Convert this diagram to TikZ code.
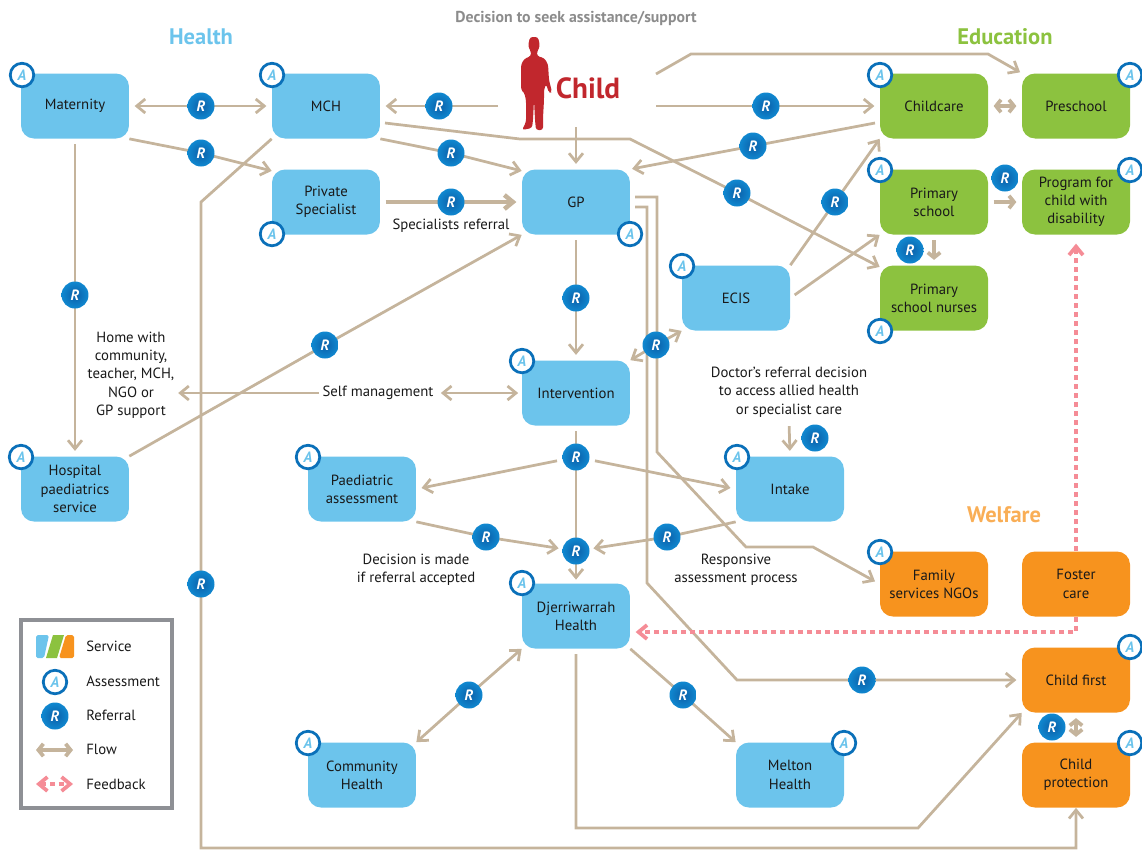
\documentclass[tikz,border=0pt]{standalone}
\usepackage{fontspec}
\setmainfont{PT Sans}
\usetikzlibrary{arrows.meta,backgrounds}
\definecolor{healthblue}{HTML}{6CC4EC}
\definecolor{edugreen}{HTML}{8CC23F}
\definecolor{welfareorange}{HTML}{F7931E}
\definecolor{flowtan}{HTML}{C5B49C}
\definecolor{feedbackpink}{HTML}{F58C96}
\definecolor{badgeblue}{HTML}{0A70B9}
\definecolor{badgedeep}{HTML}{0B5FA8}
\definecolor{badgeedge}{HTML}{1088D0}
\definecolor{childred}{HTML}{C1272D}
\definecolor{legendgray}{HTML}{8E9095}
\tikzset{
  service/.style={rectangle, rounded corners=0.26cm, minimum width=2.16cm, minimum height=1.3cm, inner sep=0pt, align=center, font=\fontsize{8.4}{10.4}\selectfont, text=black!90},
  health/.style={service, fill=healthblue},
  edu/.style={service, fill=edugreen},
  welfare/.style={service, fill=welfareorange},
  assess/.style={circle, draw=badgeblue, line width=0.55mm, fill=white, minimum size=0.47cm, inner sep=0pt, text=healthblue, font=\fontsize{8.5}{9}\selectfont\bfseries\itshape},
  refer/.style={circle, inner color=badgedeep, outer color=badgeedge, minimum size=0.54cm, inner sep=0pt, text=white, font=\fontsize{8.5}{9}\selectfont\bfseries\itshape},
  flow/.style={draw=flowtan, line width=0.55mm, >={Straight Barb[length=1.7mm,width=2.8mm]}},
  heavy/.style={flow, line width=0.9mm},
  stub/.style={draw=flowtan, line width=0.75mm, >={Straight Barb[length=1mm,width=2.5mm]}},
  feedback/.style={draw=feedbackpink, line width=0.75mm, dash pattern=on 1.1mm off 0.7mm, >={Straight Barb[length=1.7mm,width=2.8mm]}},
  gap/.style={shorten <=#1, shorten >=#1},
  note/.style={align=center, inner sep=2pt, font=\fontsize{8.4}{10.4}\selectfont, text=black!90},
  heading/.style={font=\fontsize{12.8}{15}\selectfont\bfseries}
}

\begin{document}
\begin{tikzpicture}[x=0.02cm, y=-0.02cm]
\useasboundingbox (0, 0) rectangle (1142, 850);

% services
\node[health] (maternity) at (75, 106) {Maternity};
\node[health] (mch) at (326, 106) {MCH};
\node[health] (private) at (326, 202) {Private\\Specialist};
\node[health] (gp) at (576, 202) {GP};
\node[health] (ecis) at (736, 298) {ECIS};
\node[health] (intervention) at (576, 393) {Intervention};
\node[health] (paediatric) at (362, 489) {Paediatric\\assessment};
\node[health] (intake) at (790, 489) {Intake};
\node[health] (hospital) at (75, 489) {Hospital\\paediatrics\\service};
\node[health] (djerri) at (576, 616) {Djerriwarrah\\Health};
\node[health] (community) at (362, 775) {Community\\Health};
\node[health] (melton) at (790, 775) {Melton\\Health};
\node[edu] (childcare) at (934, 106) {Childcare};
\node[edu] (preschool) at (1076, 106) {Preschool};
\node[edu] (primary) at (934, 202) {Primary\\school};
\node[edu] (program) at (1076, 202) {Program for\\child with\\disability};
\node[edu] (nurses) at (934, 298) {Primary\\school nurses};
\node[welfare] (family) at (934, 584) {Family\\services NGOs};
\node[welfare] (foster) at (1076, 584) {Foster\\care};
\node[welfare] (childfirst) at (1076, 680) {Child first};
\node[welfare] (protection) at (1076, 775) {Child\\protection};

% headings and notes
\node[heading, text=healthblue] (healthTitle) at (201, 37) {Health};
\node[heading, text=edugreen] (eduTitle) at (1005, 37) {Education};
\node[heading, text=welfareorange!75!white] (welfareTitle) at (1004, 515) {Welfare};
\node[font=\fontsize{9}{10}\selectfont\bfseries, text=black!45] (decision) at (576, 18) {Decision to seek assistance/support};
\node[font=\fontsize{16.6}{19}\selectfont\bfseries, text=childred] (childLabel) at (588, 88) {Child};
\node[note] (specialists) at (451, 226) {Specialists referral};
\node[note] (home) at (131, 375) {Home with\\community,\\teacher, MCH,\\NGO or\\GP support};
\node[note] (selfText) at (378, 393) {Self management};
\node[note] (doctor) at (789, 392) {Doctor's referral decision\\to access allied health\\or specialist care};
\node[note] (madeText) at (416, 570) {Decision is made\\if referral accepted};
\node[note] (responsive) at (736, 570) {Responsive\\assessment process};

% the child
\fill[childred, rounded corners=1.5pt] (530, 37) -- (538, 37) -- (540, 46) -- (537, 52) -- (537, 56) -- (544, 58) -- (548, 64) -- (549, 80) -- (552, 92) -- (549, 93) -- (546, 84) -- (544, 90) -- (544, 100) -- (543, 118) -- (543, 130) -- (536, 130) -- (535, 120) -- (534, 100) -- (533, 120) -- (532, 128) -- (522, 130) -- (526, 122) -- (526, 100) -- (524, 92) -- (521, 90) -- (521, 65) -- (524, 59) -- (531, 56) -- (531, 52) -- (528, 46) -- cycle;

% referral points
\node[refer] (rMaternity) at (201, 106) {R};
\node[refer] (rPrivate) at (201, 153) {R};
\node[refer] (rChildMch) at (439, 106) {R};
\node[refer] (rMchGp) at (451, 153) {R};
\node[refer] (rSpecialist) at (451, 202) {R};
\node[refer] (rChildcare) at (766, 106) {R};
\node[refer] (rCareGp) at (753, 146) {R};
\node[refer] (rNurses) at (737, 193) {R};
\node[refer] (rEcis) at (835, 202) {R};
\node[refer] (rProgram) at (1005, 178) {R};
\node[refer] (rPrimary) at (910, 250) {R};
\node[refer] (rHospital) at (75, 295) {R};
\node[refer] (rGpHospital) at (325, 345) {R};
\node[refer] (rGpDown) at (576, 298) {R};
\node[refer] (rEcisDown) at (656, 345) {R};
\node[refer] (rSplit) at (576, 457) {R};
\node[refer] (rDoctor) at (815, 438) {R};
\node[refer] (rPaed) at (486, 537) {R};
\node[refer] (rJoin) at (576, 551) {R};
\node[refer] (rIntake) at (667, 537) {R};
\node[refer] (rLong) at (201, 584) {R};
\node[refer] (rCommunity) at (469, 695) {R};
\node[refer] (rMelton) at (683, 695) {R};
\node[refer] (rFirst) at (862, 680) {R};
\node[refer] (rWelfare) at (1052, 727) {R};

% assessment points
\node[assess] (aMaternity) at (22, 75) {A};
\node[assess] (aMch) at (272, 75) {A};
\node[assess] (aPrivate) at (272, 234) {A};
\node[assess] (aGp) at (630, 234) {A};
\node[assess] (aEcis) at (682, 266) {A};
\node[assess] (aIntervention) at (522, 361) {A};
\node[assess] (aPaediatric) at (308, 457) {A};
\node[assess] (aIntake) at (737, 457) {A};
\node[assess] (aHospital) at (21, 457) {A};
\node[assess] (aDjerri) at (522, 583) {A};
\node[assess] (aCommunity) at (308, 743) {A};
\node[assess] (aMelton) at (844, 743) {A};
\node[assess] (aChildcare) at (880, 75) {A};
\node[assess] (aPreschool) at (1130, 75) {A};
\node[assess] (aPrimary) at (880, 170) {A};
\node[assess] (aProgram) at (1130, 170) {A};
\node[assess] (aNurses) at (880, 331) {A};
\node[assess] (aFamily) at (880, 552) {A};
\node[assess] (aFirst) at (1130, 647) {A};
\node[assess] (aProtection) at (1130, 743) {A};

% free ends and bends
\coordinate (childWest) at (498, 106);
\coordinate (childEast) at (656, 106);
\coordinate (childTop) at (656, 74);
\coordinate (childFoot) at (576, 127);
\coordinate (topLeft) at (691, 54);
\coordinate (topRight) at (988, 54);
\coordinate (mchOut) at (385, 123);
\coordinate (mchBend) at (520, 139);
\coordinate (mchBendB) at (630, 139);
\coordinate (longA) at (201, 202);
\coordinate (longB) at (201, 848);
\coordinate (longC) at (1076, 848);
\coordinate (careOut) at (875, 123);
\coordinate (gpOutA) at (635, 197);
\coordinate (gpA1) at (657, 197);
\coordinate (gpA2) at (657, 452);
\coordinate (gpA3) at (746, 547);
\coordinate (gpA4) at (813, 547);
\coordinate (gpOutB) at (635, 207);
\coordinate (gpB1) at (647, 207);
\coordinate (gpB2) at (647, 583);
\coordinate (gpB3) at (737, 680);
\coordinate (bottomA) at (576, 828);
\coordinate (bottomB) at (918, 828);
\coordinate (feedbackBend) at (1076, 632);

% flows
\begin{scope}[on background layer]
\draw[flow, <->, gap=3pt] (maternity.east) -- (rMaternity.center) -- (mch.west);
\draw[flow, ->] (maternity.south east) -- (rPrivate.center) -- ([yshift=-1pt]private.north west);
\draw[flow, ->, shorten >=3pt] (childWest) -- (rChildMch.center) -- (mch.east);
\draw[flow, ->] (mch.south east) -- (rMchGp.center) -- ([yshift=-1pt]gp.north west);
\draw[flow, ->] (mchOut) -- (mchBend) -- (mchBendB) -- (rNurses.center) -- ([yshift=-1pt]nurses.north west);
\draw[flow, ->] (mch.south west) -- (longA) -- (rLong.center) -- (longB) -- (longC) -- (protection.south);
\draw[heavy, ->, gap=3pt] (private.east) -- (rSpecialist.center) -- (gp.west);
\draw[flow, ->, shorten >=3pt] (childFoot) -- (gp.north);
\draw[flow, ->, shorten >=3pt] (childEast) -- (rChildcare.center) -- (childcare.west);
\draw[flow, ->, shorten >=1pt] (childTop) -- (topLeft) -- (topRight) -- (preschool.north west);
\draw[flow, ->, shorten >=1pt] (careOut) -- (rCareGp.center) -- (gp.north east);
\draw[stub, <->, gap=3pt] (childcare.east) -- (preschool.west);
\draw[flow, ->] (ecis.north east) -- (rEcis.center) -- (childcare.south west);
\draw[flow, ->, shorten <=3pt] (ecis.east) -- (primary.south west);
\draw[stub, ->, gap=3pt] (primary.east) -- (program.west);
\draw[stub, ->, gap=3pt] (primary.south) -- (nurses.north);
\draw[flow, ->, shorten >=3pt] (gpOutA) -- (gpA1) -- (gpA2) -- (gpA3) -- (gpA4) -- (family.west);
\draw[flow, ->, shorten >=3pt] (gpOutB) -- (gpB1) -- (gpB2) -- (gpB3) -- (rFirst.center) -- (childfirst.west);
\draw[flow, ->, gap=3pt] (gp.south) -- (rGpDown.center) -- (intervention.north);
\draw[flow, <->] (ecis.south west) -- (rEcisDown.center) -- (intervention.north east);
\draw[flow, ->] (hospital.north east) -- (rGpHospital.center) -- (gp.south west);
\draw[flow, ->, gap=3pt] (maternity.south) -- (rHospital.center) -- (hospital.north);
\draw[flow, <->, gap=2pt] (selfText.east) -- (intervention.west);
\draw[flow, ->] (selfText.west) -- (selfText.west -| home.east);
\draw[flow, shorten <=3pt] (intervention.south) -- (rSplit.center);
\draw[flow] (rSplit.center) -- (rJoin.center);
\draw[flow, ->, shorten >=2pt] (rJoin.center) -- (djerri.north);
\draw[flow, ->, shorten <=11pt, shorten >=3pt] (rSplit.center) -- (paediatric.east);
\draw[flow, ->, shorten <=11pt, shorten >=3pt] (rSplit.center) -- (intake.west);
\draw[flow, ->, shorten >=10pt] (paediatric.south east) -- (rPaed.center) -- (rJoin.center);
\draw[flow, ->, shorten >=10pt] (intake.south west) -- (rIntake.center) -- (rJoin.center);
\draw[flow, ->, gap=3pt] (doctor.south) -- (intake.north);
\draw[flow, ->] (djerri.south east) -- (rMelton.center) -- (melton.north west);
\draw[flow, <->] (djerri.south west) -- (rCommunity.center) -- (community.north east);
\draw[flow, ->, shorten <=3pt] (djerri.south) -- (bottomA) -- (bottomB) -- (childfirst.south west);
\draw[stub, <->, gap=3pt] (childfirst.south) -- (protection.north);
\draw[feedback, ->, shorten >=5pt] (foster.north) -- (program.south);
\draw[feedback, ->, shorten >=3pt] (foster.south) -- (feedbackBend) -- (feedbackBend -| djerri.east);
\end{scope}

% legend
\draw[legendgray, line width=0.8mm, fill=white] (21, 620) rectangle (172, 808);
\fill[healthblue, rounded corners=1pt] (36, 635) -- (49, 635) -- (44, 658) -- (36, 658) -- cycle;
\fill[edugreen] (53, 635) -- (64, 635) -- (57, 658) -- (46, 658) -- cycle;
\fill[welfareorange, rounded corners=1pt] (66, 635) -- (74, 635) -- (74, 658) -- (59, 658) -- cycle;
\node[assess] (keyA) at (55, 682) {A};
\node[refer] (keyR) at (55, 716) {R};
\coordinate (keyFlowL) at (36, 750);
\coordinate (keyFlowR) at (73, 750);
\coordinate (keyBackL) at (36, 784);
\coordinate (keyBackR) at (73, 784);
\draw[stub, <->] (keyFlowL) -- (keyFlowR);
\draw[feedback, <->] (keyBackL) -- (keyBackR);
\node[note, anchor=west, inner sep=0pt] (keyService) at (86, 646) {Service};
\node[note, anchor=west, inner sep=0pt] (keyAssess) at (86, 681) {Assessment};
\node[note, anchor=west, inner sep=0pt] (keyRefer) at (86, 715) {Referral};
\node[note, anchor=west, inner sep=0pt] (keyFlow) at (86, 749) {Flow};
\node[note, anchor=west, inner sep=0pt] (keyBack) at (86, 784) {Feedback};

\end{tikzpicture}
\end{document}
